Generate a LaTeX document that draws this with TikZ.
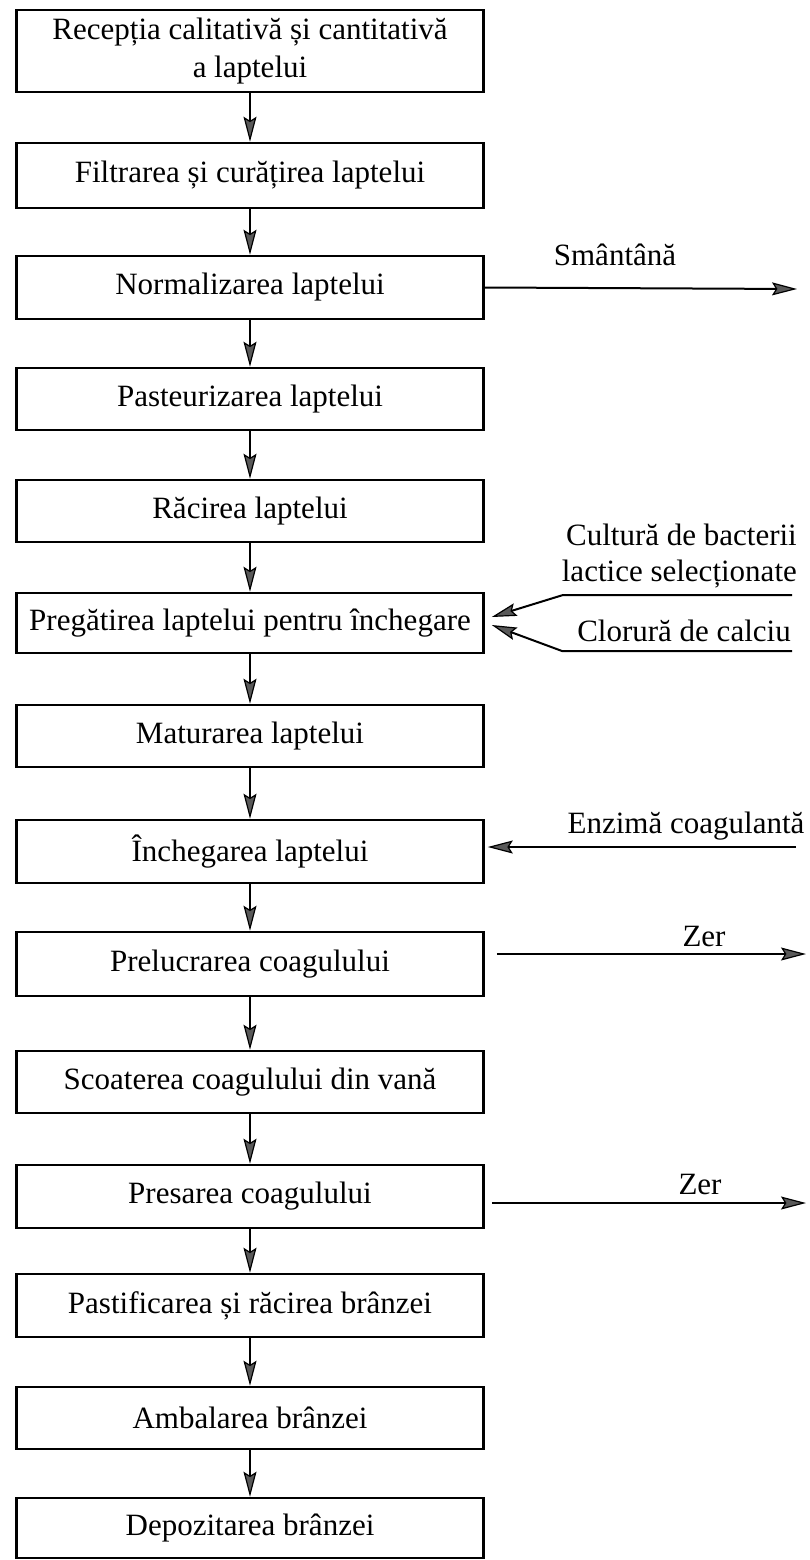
\documentclass[tikz,border=0pt]{standalone}
\usepackage{fontspec}
\setmainfont{Liberation Serif}
\usetikzlibrary{arrows.meta}
\begin{document}
\begin{tikzpicture}[x=1pt,y=-1pt,
  box/.style={draw, line width=2.5pt, minimum width=467pt, minimum height=62pt, inner sep=0pt,
              font=\fontsize{31}{38}\selectfont, align=center},
  lab/.style={font=\fontsize{31}{36}\selectfont, inner sep=0pt},
  flow/.style={line width=2pt, -{Stealth[length=25pt,width=13pt,inset=4pt,fill=black!65,line width=1.2pt]}}
]
\useasboundingbox (0,0) rectangle (809,1560);

\node[box, minimum height=82pt] (b1) at (250,51) {Recepția calitativă și cantitativă\\a laptelui};
\node[box, minimum height=65pt] (b2) at (250,175.5) {Filtrarea și curățirea laptelui};
\node[box, minimum height=63pt] (b3) at (250,287.5) {Normalizarea laptelui};
\node[box] (b4) at (250,399) {Pasteurizarea laptelui};
\node[box] (b5) at (250,511) {Răcirea laptelui};
\node[box, minimum height=60pt] (b6) at (250,623) {Pregătirea laptelui pentru închegare};
\node[box] (b7) at (250,736) {Maturarea laptelui};
\node[box, minimum height=63pt] (b8) at (250,851.5) {Închegarea laptelui};
\node[box, minimum height=64pt] (b9) at (250,964) {Prelucrarea coagulului};
\node[box] (b10) at (250,1082) {Scoaterea coagulului din vană};
\node[box, minimum height=63pt] (b11) at (250,1196.5) {Presarea coagulului};
\node[box, minimum height=63pt] (b12) at (250,1305.5) {Pastificarea și răcirea brânzei};
\node[box] (b13) at (250,1418) {Ambalarea brânzei};
\node[box, minimum height=60pt] (b14) at (250,1528) {Depozitarea brânzei};

\foreach \a/\b in {b1/b2,b2/b3,b3/b4,b4/b5,b5/b6,b6/b7,b7/b8,b8/b9,b9/b10,b10/b11,b11/b12,b12/b13,b13/b14}
  \draw[flow] (\a.south) -- (\b.north);

% side labels
\node[lab] (sm) at (615,255) {Smântână};
\node[lab, align=right, anchor=east] (cult) at (797,556) {Cultură de bacterii\\lactice selecționate};
\node[lab] (clor) at (684,631) {Clorură de calciu};
\node[lab] (enz) at (686,826) {Enzimă coagulantă};
\node[lab] (zer1) at (704,936) {Zer};
\node[lab] (zer2) at (700,1184) {Zer};

% side connectors
\coordinate (smE) at (797,289);
\draw[flow] (b3.east) -- (smE);

\coordinate (c1a) at (792,595);
\coordinate (c1b) at (563,595);
\draw[flow] (c1a) -- (c1b) -- ([xshift=7pt,yshift=6pt]b6.east);

\coordinate (c2a) at (792,651);
\coordinate (c2b) at (562,651);
\draw[flow] (c2a) -- (c2b) -- ([xshift=7pt,yshift=-2pt]b6.east);

\coordinate (enzS) at (796,847);
\draw[flow] (enzS) -- ([xshift=3pt,yshift=4.5pt]b8.east);

\coordinate (z1E) at (806,954);
\draw[flow] ([xshift=12pt,yshift=10pt]b9.east) -- (z1E);

\coordinate (z2E) at (806,1203);
\draw[flow] ([xshift=7pt,yshift=-6.5pt]b11.east) -- (z2E);
\end{tikzpicture}
\end{document}
